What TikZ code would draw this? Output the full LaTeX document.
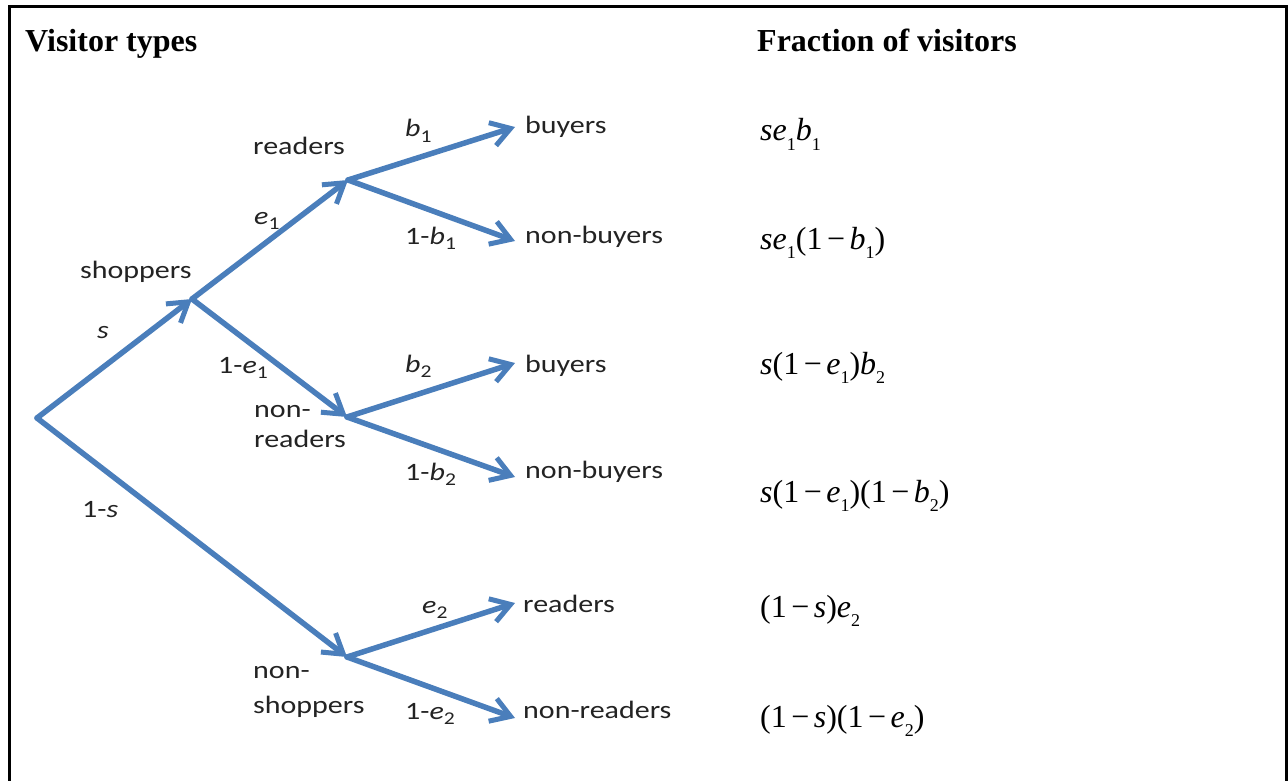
\documentclass[tikz,border=0pt]{standalone}
\usepackage{fontspec}
\setmainfont{Liberation Serif}
\newfontfamily\labfont[FakeStretch=1.2]{Carlito}
\usetikzlibrary{arrows.meta}
\definecolor{treeblue}{RGB}{74,126,187}
\definecolor{labgray}{RGB}{35,35,35}
\newcommand{\lsub}[1]{\raisebox{-0.22em}{\fontsize{18}{18}\selectfont #1}}
\newcommand{\msub}[1]{\raisebox{-0.3em}{\fontsize{18}{18}\selectfont #1}}
\newcommand{\mmin}{\hspace{0.14em}−\hspace{0.14em}}
\tikzset{
  branch/.style={draw=treeblue, line width=5.5pt, line cap=round,
    -{Straight Barb[length=19pt,width=24pt,line width=5pt]}},
  lab/.style={anchor=base west, inner sep=0pt, text=labgray,
    font=\labfont\fontsize{25}{29}\selectfont},
  fracx/.style={anchor=base west, inner sep=0pt,
    font=\fontsize{32}{36}\selectfont},
  head/.style={anchor=base west, inner sep=0pt,
    font=\bfseries\fontsize{32}{38}\selectfont},
}
\begin{document}
\begin{tikzpicture}[x=1pt,y=-1pt]
\useasboundingbox (0,0) rectangle (1288,781);
\draw[line width=3pt] (9.5,781) -- (9.5,6.5) -- (1286.5,6.5) -- (1286.5,781);

\node[head] (hvt) at (25,52) {Visitor types};
\node[head] (hfr) at (757,52) {Fraction of visitors};

\coordinate (root) at (37,418);
\coordinate (shop) at (192,299);
\coordinate (read) at (348,180);
\coordinate (nread) at (347,417);
\coordinate (nshop) at (347,657);
\coordinate (buy1) at (515,127);
\coordinate (nbuy1) at (515,241);
\coordinate (buy2) at (515,363);
\coordinate (nbuy2) at (515,477);
\coordinate (rd2) at (515,603);
\coordinate (nrd2) at (515,718);

\draw[branch] (root) -- (shop);
\draw[branch] (root) -- (nshop);
\draw[branch] (shop) -- (read);
\draw[branch] (shop) -- (nread);
\draw[branch] (read) -- (buy1);
\draw[branch] (read) -- (nbuy1);
\draw[branch] (nread) -- (buy2);
\draw[branch] (nread) -- (nbuy2);
\draw[branch] (nshop) -- (rd2);
\draw[branch] (nshop) -- (nrd2);

\node[lab] (lshop) at (80,278) {shoppers};
\node[lab] (ls) at (97,338) {\itshape s};
\node[lab] (l1s) at (82,517) {1-\textit{s}};
\node[lab] (lread) at (253,155) {readers};
\node[lab] (le1) at (254,224) {\textit{e}\lsub{1}};
\node[lab] (l1e1) at (218,373) {1-\textit{e}\lsub{1}};
\node[lab] (lnon1) at (254,417) {non-};
\node[lab] (lnr) at (254,447) {readers};
\node[lab] (lnon2) at (253,678) {non-};
\node[lab] (lns) at (253,713) {shoppers};
\node[lab] (lb1) at (405,137) {\textit{b}\lsub{1}};
\node[lab] (l1b1) at (405,244) {1-\textit{b}\lsub{1}};
\node[lab] (lb2) at (405,372) {\textit{b}\lsub{2}};
\node[lab] (l1b2) at (405,480) {1-\textit{b}\lsub{2}};
\node[lab] (le2) at (422,613) {\textit{e}\lsub{2}};
\node[lab] (l1e2) at (405,719) {1-\textit{e}\lsub{2}};
\node[lab] (tb1) at (525,134) {buyers};
\node[lab] (tnb1) at (525,243) {non-buyers};
\node[lab] (tb2) at (525,372) {buyers};
\node[lab] (tnb2) at (525,478) {non-buyers};
\node[lab] (tr) at (523,612) {readers};
\node[lab] (tnr) at (523,718) {non-readers};

\node[fracx] (f1) at (760,141) {\textit{se}\msub{1}\textit{b}\msub{1}};
\node[fracx] (f2) at (760,249) {\textit{se}\msub{1}(1\mmin\textit{b}\msub{1})};
\node[fracx] (f3) at (760,374) {\textit{s}(1\mmin\textit{e}\msub{1})\textit{b}\msub{2}};
\node[fracx] (f4) at (760,502) {\textit{s}(1\mmin\textit{e}\msub{1})(1\mmin\textit{b}\msub{2})};
\node[fracx] (f5) at (760,617) {(1\mmin\textit{s})\textit{e}\msub{2}};
\node[fracx] (f6) at (760,727) {(1\mmin\textit{s})(1\mmin\textit{e}\msub{2})};
\end{tikzpicture}
\end{document}
